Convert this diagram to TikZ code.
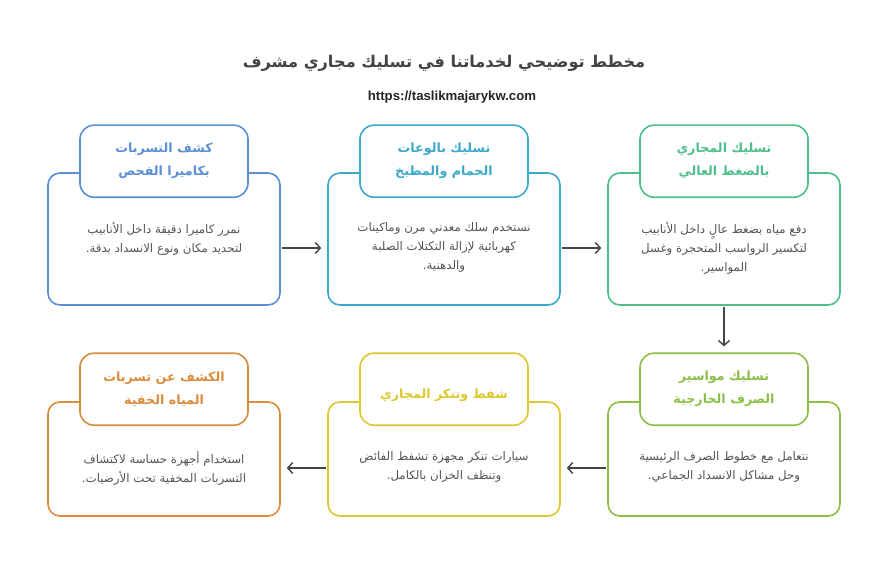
\documentclass[tikz,border=0pt]{standalone}
\usepackage{fontspec}
\setmainfont{Liberation Sans}
\newfontfamily\arabicfont[Script=Arabic]{DejaVu Sans}
\TeXXeTstate=1
\usetikzlibrary{arrows.meta,positioning,calc}

\definecolor{cblue}{HTML}{5B8FD4}
\definecolor{cteal}{HTML}{3AA9CB}
\definecolor{cgreen}{HTML}{4DC08A}
\definecolor{clime}{HTML}{8CBF46}
\definecolor{cyellow}{HTML}{DCC82E}
\definecolor{corange}{HTML}{D98C3C}
\definecolor{ctext}{HTML}{555555}
\definecolor{cline}{HTML}{444444}

\newcommand{\ar}[1]{{\arabicfont\beginR #1\endR}}

\begin{document}
\begin{tikzpicture}[
    x=1pt, y=-1pt,
    card/.style={draw=#1, line width=1.6pt, rounded corners=12pt, fill=white, minimum width=232pt},
    head/.style={draw=#1, line width=1.6pt, rounded corners=14pt, fill=white, minimum width=168pt,
        minimum height=72pt, text=#1, font=\bfseries\fontsize{12.7}{23}\selectfont, align=center,
        execute at begin node={\rule{0pt}{21pt}}},
    body/.style={anchor=north, inner sep=0pt, text=ctext, font=\fontsize{11.8}{19}\selectfont, align=center},
    flow/.style={draw=cline, line width=1.4pt, -{Straight Barb[length=5pt,width=11pt,line width=1.4pt]},
        shorten >=6pt, shorten <=1pt}
]
    \useasboundingbox[fill=white] (0,0) rectangle (888,588);

    \node[font=\bfseries\fontsize{16.2}{18}\selectfont, text=cline] (title) at (444,63)
        {\ar{مخطط توضيحي لخدماتنا في تسليك مجاري مشرف}};
    \node[font=\bfseries\fontsize{13.2}{14}\selectfont, text=black!85] (url) at (452,97)
        {https://taslikmajarykw.com};

    % top row
    \node[card=cblue, minimum height=132pt] (b1) at (164,239) {};
    \node[card=cteal, minimum height=132pt] (b2) at (444,239) {};
    \node[card=cgreen, minimum height=132pt] (b3) at (724,239) {};
    \node[head=cblue] (t1) at ([yshift=11pt]b1.north) {\ar{كشف التسربات}\\\ar{بكاميرا الفحص}};
    \node[head=cteal] (t2) at ([yshift=11pt]b2.north) {\ar{تسليك بالوعات}\\\ar{الحمام والمطبخ}};
    \node[head=cgreen] (t3) at ([yshift=11pt]b3.north) {\ar{تسليك المجاري}\\\ar{بالضغط العالي}};
    \node[body] (d1) at ([yshift=-50pt]b1.north)
        {\ar{نمرر كاميرا دقيقة داخل الأنابيب}\\\ar{لتحديد مكان ونوع الانسداد بدقة.}};
    \node[body] (d2) at ([yshift=-50pt]b2.north)
        {\ar{نستخدم سلك معدني مرن وماكينات}\\\ar{كهربائية لإزالة التكتلات الصلبة}\\\ar{والدهنية.}};
    \node[body] (d3) at ([yshift=-50pt]b3.north)
        {\ar{دفع مياه بضغط عالٍ داخل الأنابيب}\\\ar{لتكسير الرواسب المتحجرة وغسل}\\\ar{المواسير.}};

    % bottom row
    \node[card=clime, minimum height=114pt] (b4) at (724,459) {};
    \node[card=cyellow, minimum height=114pt] (b5) at (444,459) {};
    \node[card=corange, minimum height=114pt] (b6) at (164,459) {};
    \node[head=clime] (t4) at ([yshift=12pt]b4.north) {\ar{تسليك مواسير}\\\ar{الصرف الخارجية}};
    \node[head=cyellow] (t5) at ([yshift=12pt]b5.north) {\ar{شفط وتنكر المجاري}};
    \node[head=corange] (t6) at ([yshift=12pt]b6.north) {\ar{الكشف عن تسربات}\\\ar{المياه الخفية}};
    \node[body] (d4) at ([yshift=-50pt]b4.north)
        {\ar{نتعامل مع خطوط الصرف الرئيسية}\\\ar{وحل مشاكل الانسداد الجماعي.}};
    \node[body] (d5) at ([yshift=-50pt]b5.north)
        {\ar{سيارات تنكر مجهزة تشفط الفائض}\\\ar{وتنظف الخزان بالكامل.}};
    \node[body] (d6) at ([yshift=-50pt]b6.north)
        {\ar{استخدام أجهزة حساسة لاكتشاف}\\\ar{التسربات المخفية تحت الأرضيات.}};

    % connectors
    \draw[flow] ([yshift=-9pt]b1.east) -- ([yshift=-9pt]b2.west);
    \draw[flow] ([yshift=-9pt]b2.east) -- ([yshift=-9pt]b3.west);
    \draw[flow] (b3.south) -- (t4.north);
    \draw[flow] ([yshift=-9pt]b4.west) -- ([yshift=-9pt]b5.east);
    \draw[flow] ([yshift=-9pt]b5.west) -- ([yshift=-9pt]b6.east);
\end{tikzpicture}
\end{document}
